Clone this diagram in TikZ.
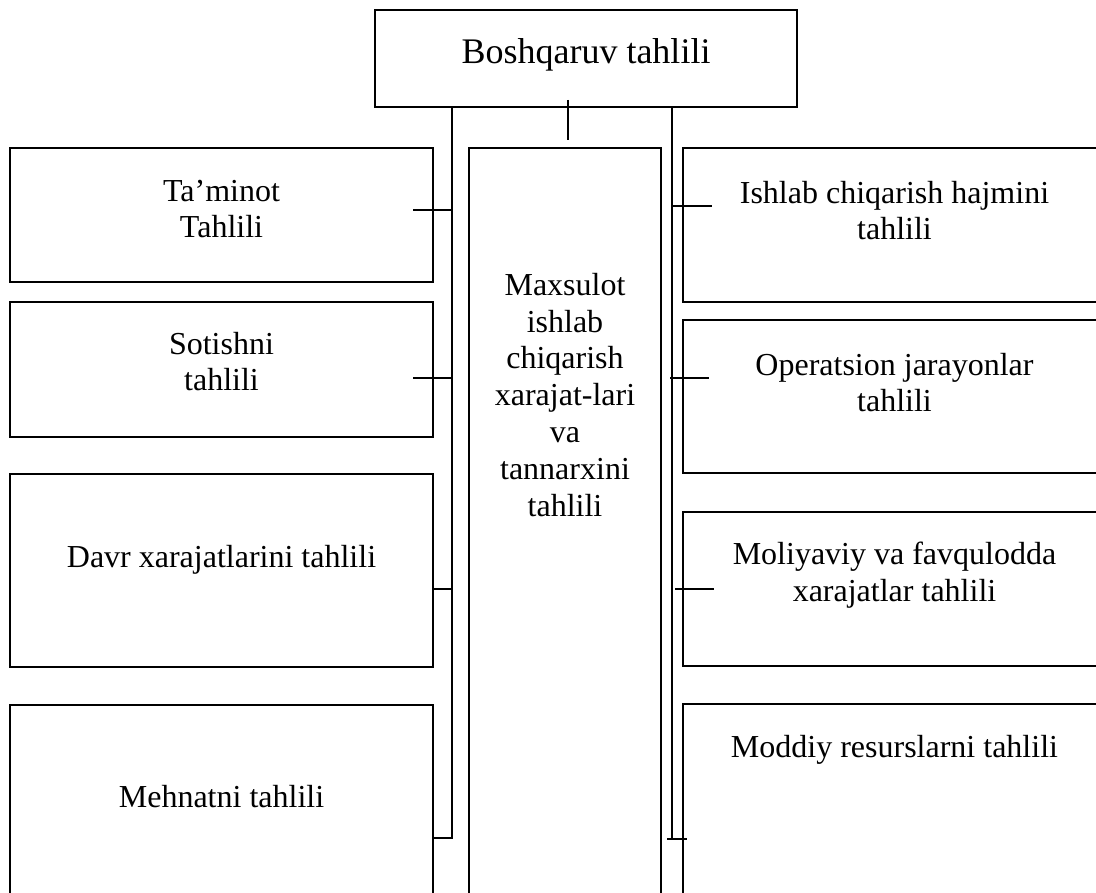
\documentclass[tikz,border=0pt]{standalone}
\usepackage{fontspec}
\setmainfont{Liberation Serif}
\begin{document}
\begin{tikzpicture}[x=1pt,y=-1pt,
  panel/.style={draw,line width=1.4pt,inner sep=0pt,outer sep=0pt,rectangle},
  txt/.style={inner sep=0pt,align=center,anchor=base,font=\fontsize{32}{36.8}\selectfont},
  conn/.style={line width=1.4pt}]
\useasboundingbox (0,0) rectangle (1096,893);
\clip (0,0) rectangle (1096,893);
% boxes
\node[panel,minimum width=422pt,minimum height=97pt] (top) at (586,58.5) {};
\node[panel,minimum width=423pt,minimum height=134pt] (l1) at (221.5,215) {};
\node[panel,minimum width=423pt,minimum height=135pt] (l2) at (221.5,369.5) {};
\node[panel,minimum width=423pt,minimum height=193pt] (l3) at (221.5,570.5) {};
\node[panel,minimum width=423pt,minimum height=245pt] (l4) at (221.5,827.5) {};
\node[panel,minimum width=192pt,minimum height=802pt] (c) at (565,549) {};
\node[panel,minimum width=423pt,minimum height=154pt] (r1) at (894.5,225) {};
\node[panel,minimum width=423pt,minimum height=153pt] (r2) at (894.5,396.5) {};
\node[panel,minimum width=423pt,minimum height=154pt] (r3) at (894.5,589) {};
\node[panel,minimum width=423pt,minimum height=246pt] (r4) at (894.5,827) {};
% texts (anchor base = baseline of the last line)
\node[txt,font=\fontsize{36}{41}\selectfont] (topt) at (586,64) {Boshqaruv tahlili};
\node[txt] (l1t) at (221.5,238) {Ta’minot\\Tahlili};
\node[txt] (l2t) at (221.5,391) {Sotishni\\tahlili};
\node[txt] (l3t) at (221.5,567) {Davr xarajatlarini tahlili};
\node[txt] (l4t) at (221.5,807) {Mehnatni tahlili};
\node[txt] (ct) at (565,516) {Maxsulot\\ishlab\\chiqarish\\xarajat-lari\\va\\tannarxini\\tahlili};
\node[txt] (r1t) at (894.5,240) {Ishlab chiqarish hajmini\\tahlili};
\node[txt] (r2t) at (894.5,412) {Operatsion jarayonlar\\tahlili};
\node[txt] (r3t) at (894.5,601) {Moliyaviy va favqulodda\\xarajatlar tahlili};
\node[txt] (r4t) at (894.5,757) {Moddiy resurslarni tahlili};
% connector coordinates
\coordinate (L) at (452,0);
\coordinate (R) at (672,0);
\coordinate (lb) at (452,838);
\coordinate (rb) at (672,839);
\coordinate (lt1) at (413,210);
\coordinate (lt2) at (413,378);
\coordinate (lt3) at (452,589);
\coordinate (rt1) at (712,206);
\coordinate (rt2) at (709,378);
\coordinate (rt3) at (714,589);
\coordinate (rt4a) at (667,839);
\coordinate (rt4b) at (687,839);
\coordinate (cs) at (568,100);
\coordinate (ce) at (568,140);
% connectors
\draw[conn] (top.south -| L) -- (lb) -- (lb -| l4.east);
\draw[conn] (lt1) -- (lt1 -| L);
\draw[conn] (lt2) -- (lt2 -| L);
\draw[conn] (lt3 -| l3.east) -- (lt3);
\draw[conn] (top.south -| R) -- (rb);
\draw[conn] (rt1 -| R) -- (rt1);
\draw[conn] (rt2 -| R) ++(-2,0) -- (rt2);
\draw[conn] (rt3 -| R) ++(3,0) -- (rt3);
\draw[conn] (rt4a) -- (rt4b);
\draw[conn] (cs) -- (ce);
\end{tikzpicture}
\end{document}
